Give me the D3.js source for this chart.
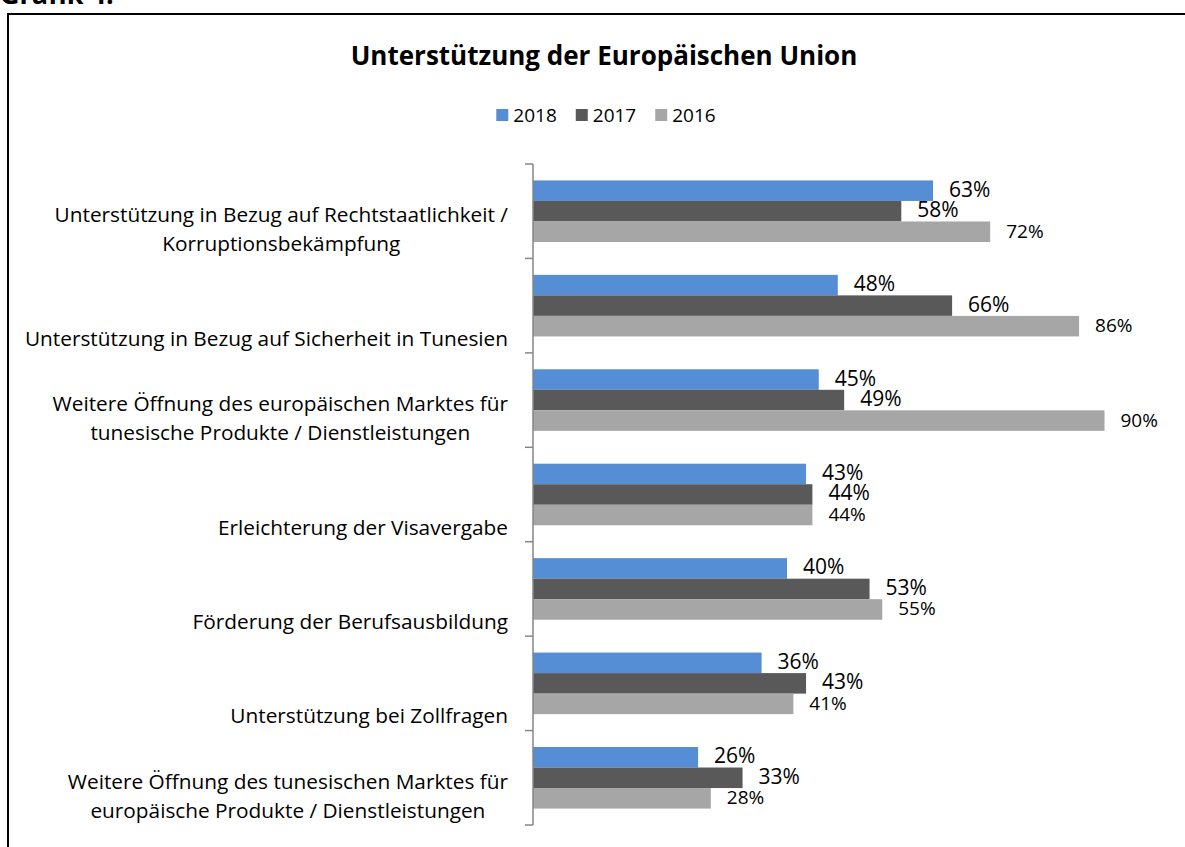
<!DOCTYPE html>
<html>
<head>
<meta charset="utf-8">
<title>Unterstützung der Europäischen Union</title>
<script src="https://cdn.jsdelivr.net/npm/d3@7"></script>
<style>
body { margin: 0; background: #fff; }
svg text { font-family: "Open Sans", "Noto Sans", sans-serif; fill: #000; }
</style>
</head>
<body>
<svg id="chart" width="1185" height="847"></svg>
<script>
// categories, top to bottom ("\n" marks the line breaks of the axis labels)
var categories = [
  "Unterstützung in Bezug auf Rechtstaatlichkeit /\nKorruptionsbekämpfung",
  "Unterstützung in Bezug auf Sicherheit in Tunesien",
  "Weitere Öffnung des europäischen Marktes für\ntunesische Produkte / Dienstleistungen",
  "Erleichterung der Visavergabe",
  "Förderung der Berufsausbildung",
  "Unterstützung bei Zollfragen",
  "Weitere Öffnung des tunesischen Marktes für\neuropäische Produkte / Dienstleistungen"
];
var years = ["2018", "2017", "2016"];
var values2018 = [63, 48, 45, 43, 40, 36, 26];
var values2017 = [58, 66, 49, 44, 53, 43, 33];
var values2016 = [72, 86, 90, 44, 55, 41, 28];

var series = [values2018, values2017, values2016];
var colors = ["#558ED5", "#595959", "#A6A6A6"];

var svg = d3.select("#chart");

// outer frame + caption (cut off at the top, as in the source)
svg.append("text")
    .attr("x", 0).attr("y", 4)
    .style("font-size", "27px").style("font-weight", "bold")
    .text("Grafik 4:");

svg.append("rect")
    .attr("x", 8).attr("y", 14)
    .attr("width", 1200).attr("height", 900)
    .attr("fill", "none").attr("stroke", "#000").attr("stroke-width", 2);

// title
svg.append("text")
    .attr("x", 604).attr("y", 65)
    .attr("text-anchor", "middle")
    .style("font-size", "26px").style("font-weight", "bold")
    .text("Unterstützung der Europäischen Union");

// scales
var x = d3.scaleLinear().domain([0, 100]).range([533, 1168]);

var y0 = d3.scaleBand()
    .domain(d3.range(categories.length))
    .range([164, 825])
    .padding(0);

var y1 = d3.scaleBand()
    .domain(years)
    .range([0, y0.bandwidth()])
    .paddingOuter(0.8)
    .paddingInner(0);

// bars
var groups = svg.append("g").selectAll("g")
    .data(categories)
    .enter().append("g")
    .attr("transform", function(d, i) { return "translate(0," + y0(i) + ")"; });

groups.each(function(cat, ci) {
  var g = d3.select(this);
  years.forEach(function(yr, si) {
    var v = series[si][ci];
    g.append("rect")
        .attr("x", x(0))
        .attr("y", y1(yr))
        .attr("width", x(v) - x(0))
        .attr("height", y1.bandwidth())
        .attr("fill", colors[si]);

    g.append("text")
        .attr("x", x(v) + 16)
        .attr("y", y1(yr) + y1.bandwidth() / 2 + 6)
        .style("font-size", si === 2 ? "19px" : "21px")
        .text(v + "%");
  });
});

// vertical axis with ticks between categories
var axis = svg.append("g").attr("class", "axis");
axis.append("line")
    .attr("x1", x(0)).attr("x2", x(0))
    .attr("y1", y0.range()[0]).attr("y2", y0.range()[1])
    .attr("stroke", "#868686").attr("stroke-width", 1.5);

axis.selectAll(".tick")
    .data(d3.range(categories.length + 1))
    .enter().append("line")
    .attr("class", "tick")
    .attr("x1", x(0) - 8).attr("x2", x(0))
    .attr("y1", function(i) { return y0.range()[0] + i * y0.step(); })
    .attr("y2", function(i) { return y0.range()[0] + i * y0.step(); })
    .attr("stroke", "#868686").attr("stroke-width", 1.5);

// category labels: block right aligned, lines centred within the block;
// one-line labels sit in the second line slot like the original
var labelRight = 508;
categories.forEach(function(cat, ci) {
  var lines = cat.split("\n");
  if (lines.length === 1) lines = ["", lines[0]];
  var cy = y0(ci) + y0.bandwidth() / 2;
  var t = svg.append("g");
  var texts = lines.map(function(line, li) {
    return t.append("text")
        .attr("y", cy + 11 + li * 29)
        .attr("text-anchor", "middle")
        .style("font-size", "20.8px")
        .text(line);
  });
  var w = d3.max(texts, function(s) { return s.node().getComputedTextLength(); });
  texts.forEach(function(s) { s.attr("x", labelRight - w / 2); });
});

// legend
var legend = svg.append("g");
var lx = 0;
years.forEach(function(yr, si) {
  legend.append("rect")
      .attr("x", lx).attr("y", 109)
      .attr("width", 12).attr("height", 12)
      .attr("fill", colors[si]);
  var t = legend.append("text")
      .attr("x", lx + 17).attr("y", 122)
      .style("font-size", "19px")
      .text(yr);
  lx += 17 + t.node().getComputedTextLength() + 19;
});
var lw = lx - 19;
legend.attr("transform", "translate(" + (606 - lw / 2) + ",0)");
</script>
</body>
</html>
